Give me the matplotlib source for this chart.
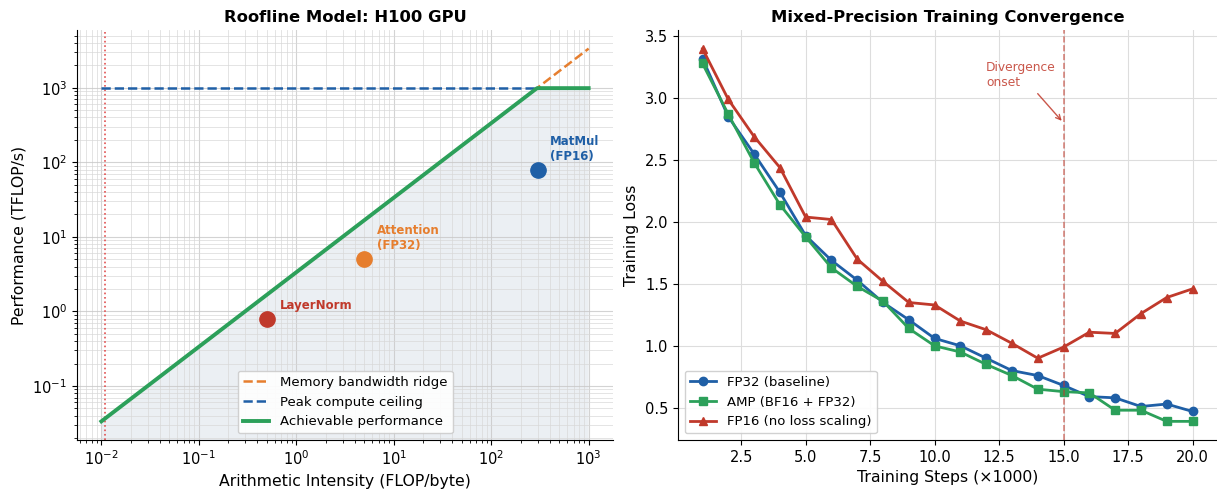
import numpy as np
import matplotlib
matplotlib.use("Agg")
import matplotlib.pyplot as plt

# ---- Roofline data (H100) ----
peak_tflops = 989.0          # TFLOP/s
mem_bw = 3.35                # TB/s
ai_min, ai_max = 1e-2, 1e3
ref_line_x = 0.011

kernels = ["LayerNorm", "Attention\n(FP32)", "MatMul\n(FP16)"]
kernel_ai = [0.5, 5.0, 300.0]
kernel_perf = [0.8, 5.0, 80.0]

# ---- Training convergence data ----
steps = [1, 2, 3, 4, 5, 6, 7, 8, 9, 10, 11, 12, 13, 14, 15, 16, 17, 18, 19, 20]
loss_fp32 = [3.32, 2.85, 2.55, 2.24, 1.89, 1.69, 1.53, 1.35, 1.21, 1.06,
             1.00, 0.90, 0.80, 0.76, 0.68, 0.59, 0.58, 0.51, 0.53, 0.47]
loss_amp = [3.28, 2.87, 2.48, 2.14, 1.88, 1.63, 1.48, 1.36, 1.14, 1.00,
            0.95, 0.85, 0.76, 0.65, 0.63, 0.62, 0.48, 0.48, 0.39, 0.39]
loss_fp16 = [3.40, 2.99, 2.69, 2.44, 2.04, 2.02, 1.70, 1.52, 1.35, 1.33,
             1.20, 1.13, 1.02, 0.90, 0.99, 1.11, 1.10, 1.26, 1.39, 1.46]
divergence_step = 15

BLUE = "#1f5fa6"
GREEN = "#2ca05a"
RED = "#c0392b"
ORANGE = "#e67e2e"

W, H = 1217, 497
fig = plt.figure(figsize=(W / 100, H / 100), dpi=100)
ax1 = fig.add_axes([77 / W, 1 - 440 / H, (613 - 77) / W, (440 - 30) / H])
ax2 = fig.add_axes([678 / W, 1 - 440 / H, (1217 - 678) / W, (440 - 30) / H])

# ---------------- Roofline ----------------
ai = np.logspace(np.log10(ai_min), np.log10(ai_max), 400)
mem_roof = mem_bw * ai
achievable = np.minimum(mem_roof, peak_tflops)

ax1.set_xscale("log")
ax1.set_yscale("log")
ax1.plot(ai, mem_roof, "--", color=ORANGE, lw=1.8, label="Memory bandwidth ridge")
ax1.plot([ai_min, ai_max], [peak_tflops, peak_tflops], "--", color=BLUE, lw=1.8,
         label="Peak compute ceiling")
ax1.plot(ai, achievable, "-", color=GREEN, lw=2.8, label="Achievable performance")
ylo, yhi = ax1.get_ylim()
xlo, xhi = ax1.get_xlim()
ax1.fill_between(ai, achievable, ylo * 1e-3, color="#4a6f9a", alpha=0.11, lw=0, zorder=0)
ax1.axvline(ref_line_x, color="#e05050", ls=":", lw=1.2, zorder=1)

for name, x, y, c in zip(kernels, kernel_ai, kernel_perf, [RED, ORANGE, BLUE]):
    ax1.plot(x, y, "o", color=c, ms=11, zorder=5)
    ax1.annotate(name, (x, y), xytext=(9, 5), textcoords="offset points",
                 fontsize=8.5, fontweight="bold", color=c, va="bottom", ha="left")

ax1.set_xlim(xlo, xhi)
ax1.set_ylim(ylo, yhi)
ax1.grid(True, which="major", color="#c8c8c8", lw=0.8, alpha=0.8)
ax1.grid(True, which="minor", color="#d8d8d8", lw=0.6, alpha=0.8)
ax1.set_xlabel("Arithmetic Intensity (FLOP/byte)", fontsize=11.3)
ax1.set_ylabel("Performance (TFLOP/s)", fontsize=11.3)
ax1.set_title("Roofline Model: H100 GPU", fontsize=11.8, fontweight="bold")
ax1.tick_params(labelsize=10.5)
ax1.legend(loc="lower center", fontsize=9.5, framealpha=0.9)

# ---------------- Convergence ----------------
ax2.plot(steps, loss_fp32, "-o", color=BLUE, lw=2, ms=6, label="FP32 (baseline)")
ax2.plot(steps, loss_amp, "-s", color=GREEN, lw=2, ms=6, label="AMP (BF16 + FP32)")
ax2.plot(steps, loss_fp16, "-^", color=RED, lw=2, ms=6, label="FP16 (no loss scaling)")
ax2.axvline(divergence_step, color=RED, ls="--", lw=1.2, alpha=0.6)
ax2.annotate("Divergence\nonset", xy=(divergence_step, 2.8), xytext=(12.0, 3.1),
             fontsize=8.8, color=RED, alpha=0.85,
             arrowprops=dict(arrowstyle="->", color=RED, lw=1.0, alpha=0.85))
ax2.grid(True, color="#dddddd", lw=0.8)
ax2.set_xlabel("Training Steps (\u00d71000)", fontsize=11.3)
ax2.set_ylabel("Training Loss", fontsize=11.3)
ax2.set_title("Mixed-Precision Training Convergence", fontsize=11.8, fontweight="bold")
ax2.tick_params(labelsize=10.5)
ax2.legend(loc="lower left", fontsize=9.5, framealpha=0.9)

for ax in (ax1, ax2):
    ax.spines["top"].set_visible(False)
    ax.spines["right"].set_visible(False)
    ax.set_axisbelow(True)

fig.savefig("out.png", dpi=100)
